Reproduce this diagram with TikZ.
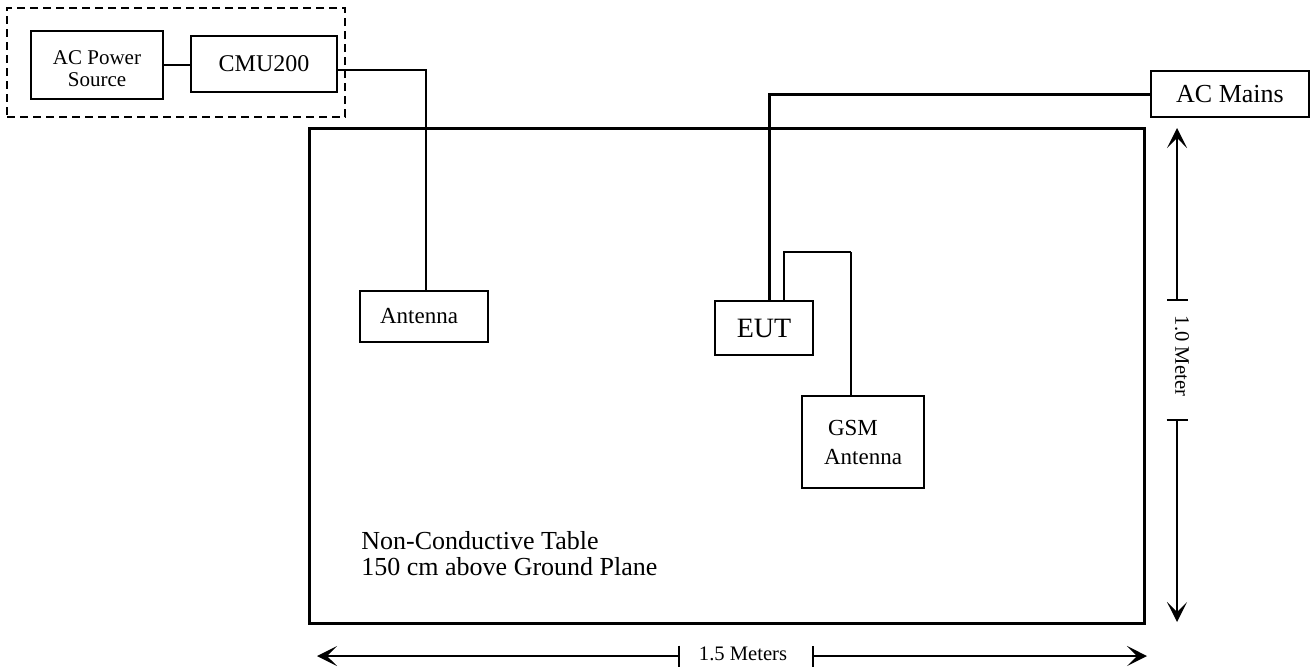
\documentclass[tikz,border=0pt]{standalone}
\usepackage{fontspec}
\setmainfont{Liberation Serif}
\usetikzlibrary{arrows.meta}

\begin{document}
\begin{tikzpicture}[x=0.5pt, y=-0.5pt,
  box/.style={draw, line width=1pt, inner sep=0pt, align=center},
  cable/.style={line width=1.3pt},
  dimline/.style={line width=0.8pt},
  >={Stealth[length=10pt, width=10pt, inset=5pt]}]
  \useasboundingbox (0,0) rectangle (1316,670);

  % test set and its supply
  \node[box, dashed, dash pattern=on 4pt off 2.5pt, minimum width=169pt, minimum height=54.5pt] (group) at (176,62.5) {};
  \node[box, minimum width=66pt, minimum height=34pt,
    label={[align=center, yshift=-2pt, font=\fontsize{10.5}{11}\selectfont]center:AC Power\\Source}] (acps) at (97,65) {};
  \node[box, minimum width=73pt, minimum height=28pt, font=\fontsize{12}{14}\selectfont] (cmu) at (264,64) {CMU200};
  \node[box, minimum width=79pt, minimum height=23pt, font=\fontsize{13}{15}\selectfont] (mains) at (1230,94) {AC Mains};

  % the table
  \node[draw, line width=1.5pt, minimum width=417.5pt, minimum height=247.5pt] (table) at (727,375.5) {};
  \node[anchor=south west, align=left, inner sep=0pt, font=\fontsize{13}{13}\selectfont] (tabletext) at (361,576) {Non-Conductive Table\\150 cm above Ground Plane};

  \node[box, minimum width=64pt, minimum height=25.5pt, font=\fontsize{11.5}{14}\selectfont] (antenna) at (424,316.5) {\hspace{-5pt}Antenna};
  \node[box, minimum width=49pt, minimum height=27pt, font=\fontsize{14}{16}\selectfont] (eut) at (764,328) {EUT};
  \node[box, align=left, minimum width=61pt, minimum height=46pt, font=\fontsize{11.5}{14.5}\selectfont] (gsm) at (863,442) {\hspace{2pt}GSM\\Antenna};

  % cables
  \coordinate (gsmturn) at (851,252);
  \draw[cable] (acps.east) -- (cmu.west |- acps.east);
  \draw[cable] ([yshift=-3pt]cmu.east) -| ([xshift=1pt]antenna.north);
  \draw[line width=1.5pt] (mains.west) -| ([xshift=2.5pt]eut.north);
  \draw[cable] ([xshift=10pt]eut.north) |- (gsmturn);
  \draw[line width=0.6pt] (gsmturn) -- ([xshift=-6pt]gsm.north);

  % dimensions
  \coordinate (wl) at (317,656);
  \coordinate (wt1) at (680,656);
  \coordinate (wt2) at (812,656);
  \coordinate (wr) at (1147,656);
  \coordinate (hu) at (1177,128);
  \coordinate (ht1) at (1177,301);
  \coordinate (ht2) at (1177,419);
  \coordinate (hd) at (1177,622);
  \draw[dimline, {Bar[width=10.5pt]}->] (wt1) -- (wl);
  \draw[dimline, {Bar[width=10.5pt]}->] (wt2) -- (wr);
  \draw[dimline, {Bar[width=10.5pt]}->] (ht1) -- (hu);
  \draw[dimline, {Bar[width=10.5pt]}->] (ht2) -- (hd);
  \node[font=\fontsize{10.3}{12}\selectfont] (wlabel) at (743,654) {1.5 Meters};
  \node[rotate=-90, font=\fontsize{10.3}{12}\selectfont] (hlabel) at (1182,356) {1.0 Meter};
\end{tikzpicture}
\end{document}
